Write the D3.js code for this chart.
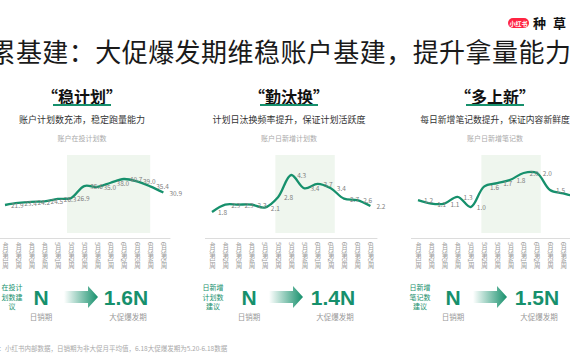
<!DOCTYPE html>
<html>
<head>
<meta charset="utf-8">
<script src="https://cdn.jsdelivr.net/npm/d3@7"></script>
<style>
html,body{margin:0;padding:0;background:#fff;}
svg{display:block;}
</style>
</head>
<body>
<svg id="c" width="570" height="360"></svg>
<script>
// ---- data ----
const weekLabels = ["4月第1周","4月第2周","4月第3周","4月第4周","5月第1周","5月第2周","5月第3周","5月第4周","6月第1周","6月第2周","6月第3周","6月第4周","6月第5周"];
const planCounts = [21.9,23.4,24.2,24.5,26.3,26.9,35.6,35.0,38.0,40.7,39.0,35.4,30.9];
const newPlans   = [1.8,2.3,2.3,2.3,2.1,2.8,4.3,3.4,3.7,3.4,2.7,2.6,2.2];
const newNotes   = [1.2,1.1,1.1,1.3,1.0,1.6,1.7,1.8,2.0,2.0,1.5,1.4,1.3];
const headings   = ["“稳计划”","“勤汰换”","“多上新”"];
const subtitles  = ["账户计划数充沛，稳定跑量能力","计划日汰换频率提升，保证计划活跃度","每日新增笔记数提升，保证内容新鲜度"];
const chartTitles= ["账户在投计划数","账户日新增计划数","账户日新增笔记数"];
const suggestions= [["在投计","划数建","议"],["日新增","计划数","建议"],["日新增","笔记数","建议"]];
const multipliers= ["1.6N","1.4N","1.5N"];
const baseLabel = "N", dailyLabel = "日销期", promoLabel = "大促爆发期";
const mainTitle = "积累基建：大促爆发期维稳账户基建，提升拿量能力";
const footnote = "小红书内部数据，日销期为非大促月平均值，6.18大促爆发期为5.20-6.18数据";
const brandChars = ["种","草"];

const series = [planCounts, newPlans, newNotes];

// ---- layout ----
const TEAL = "#16906c";
const svg = d3.select("#c");
const FONT = "'Noto Sans CJK SC','Noto Sans',sans-serif";
svg.style("font-family", FONT);

const defs = svg.append("defs");
const grad = defs.append("linearGradient").attr("id","ag").attr("x1","0").attr("x2","1").attr("y1","0").attr("y2","0");
grad.append("stop").attr("offset","0%").attr("stop-color",TEAL).attr("stop-opacity",0);
grad.append("stop").attr("offset","100%").attr("stop-color",TEAL).attr("stop-opacity",1);

// main title
svg.append("text").attr("x",-37).attr("y",62)
  .attr("font-size",26).attr("letter-spacing",0.45).attr("fill","#1a1a1a").text(mainTitle);

// logo
svg.append("rect").attr("x",508).attr("y",18).attr("width",21).attr("height",10).attr("rx",5).attr("fill","#ff2442");
svg.append("text").attr("x",518.5).attr("y",25.5).attr("text-anchor","middle").attr("font-size",6).attr("font-weight",700).attr("fill","#fff").text("小红书");
brandChars.forEach((c,i)=>{
  svg.append("text").attr("x",533+i*20).attr("y",28).attr("font-size",13).attr("font-weight",700).attr("fill","#111").text(c);
});

const panelOff = [0, 207, 413];
const yPx = [[205,179],[212,175],[207,173]];
const shadeIdx = [[4.7,11.0],[4.8,9.3],[4.8,9.3]];
const suggX = [12, 213, 420];
const nX = [41, 249, 453];
const arrowX = [64, 269, 473];
const multX = [126, 333, 537];

series.forEach((vals, p) => {
  const off = panelOff[p];
  const cx = 82 + off;
  const g = svg.append("g");

  // headings
  g.append("text").attr("x",cx).attr("y",103).attr("text-anchor","middle")
    .attr("font-size",16).attr("font-weight",700).attr("fill","#111").text(headings[p]);
  g.append("rect").attr("x",cx-29).attr("y",104).attr("width",58).attr("height",2).attr("fill",TEAL);
  g.append("text").attr("x",cx).attr("y",123).attr("text-anchor","middle")
    .attr("font-size",p===2?8.8:9).attr("fill","#333").text(subtitles[p]);
  g.append("text").attr("x",cx).attr("y",141).attr("text-anchor","middle")
    .attr("font-size",7).attr("fill","#aaa").text(chartTitles[p]);

  // scales
  const x = d3.scalePoint().domain(weekLabels).range([5+off, 5+off+12*13.2]);
  const xi = d3.scaleLinear().domain([0, weekLabels.length-1]).range(x.range());
  const y = d3.scaleLinear().domain([d3.min(vals), d3.max(vals)]).range(yPx[p]);

  // shaded promo band
  g.append("rect").attr("x",xi(shadeIdx[p][0])).attr("y",155)
    .attr("width",xi(shadeIdx[p][1])-xi(shadeIdx[p][0])).attr("height",78)
    .attr("fill","#eff6ee");

  // axis
  const axis = d3.axisBottom(x).tickSize(0).tickPadding(3);
  const ag = g.append("g").attr("transform","translate(0,238)").call(axis);
  ag.select(".domain").attr("stroke","#dcdcdc").attr("d",`M${x.range()[0]-7},0.5H${x.range()[1]+7}`);
  ag.selectAll("text").attr("fill","#999").attr("font-size",6.5).attr("font-family",FONT)
    .attr("dy",0).attr("y",4).attr("text-anchor","start")
    .style("writing-mode","vertical-rl").style("text-orientation","mixed");

  // line
  const line = d3.line().x((d,i)=>x(weekLabels[i])).y(d=>y(d)).curve(d3.curveCatmullRom.alpha(0.5));
  g.append("path").datum(vals).attr("d",line).attr("fill","none").attr("stroke",TEAL).attr("stroke-width",2.3);

  // value labels
  g.selectAll(".vl").data(vals).enter().append("text")
    .attr("x",(d,i)=>x(weekLabels[i])+6).attr("y",d=>y(d)+3)
    .attr("font-size",6.5).attr("fill","#808080").text(d=>d.toFixed(1));

  // bottom
  suggestions[p].forEach((s,k)=>{
    g.append("text").attr("x",suggX[p]).attr("y",290+k*9.5).attr("text-anchor","middle")
      .attr("font-size",7).attr("fill",TEAL).text(s);
  });
  g.append("text").attr("x",nX[p]).attr("y",305).attr("text-anchor","middle")
    .attr("font-family","'Liberation Sans',Arial,sans-serif").attr("font-size",21).attr("font-weight",700)
    .attr("fill",TEAL).text(baseLabel);
  g.append("text").attr("x",nX[p]).attr("y",320).attr("text-anchor","middle")
    .attr("font-size",7.5).attr("fill","#999").text(dailyLabel);
  const ax = arrowX[p];
  g.append("path").attr("d",`M${ax},291H${ax+24}V286L${ax+34},297L${ax+24},308V303H${ax}Z`).attr("fill","url(#ag)");
  g.append("text").attr("x",multX[p]).attr("y",305).attr("text-anchor","middle")
    .attr("font-family","'Liberation Sans',Arial,sans-serif").attr("font-size",21).attr("font-weight",700)
    .attr("fill",TEAL).text(multipliers[p]);
  g.append("text").attr("x",multX[p]+2).attr("y",320).attr("text-anchor","middle")
    .attr("font-size",7.5).attr("fill","#999").text(promoLabel);
});

// footnote
svg.append("text").attr("x",5).attr("y",351).attr("font-size",6.5).attr("fill","#aaa").text(footnote);
svg.append("text").attr("x",5).attr("y",351).attr("text-anchor","end").attr("font-size",6.5).attr("fill","#aaa").text("数据来源：");
</script>
</body>
</html>
